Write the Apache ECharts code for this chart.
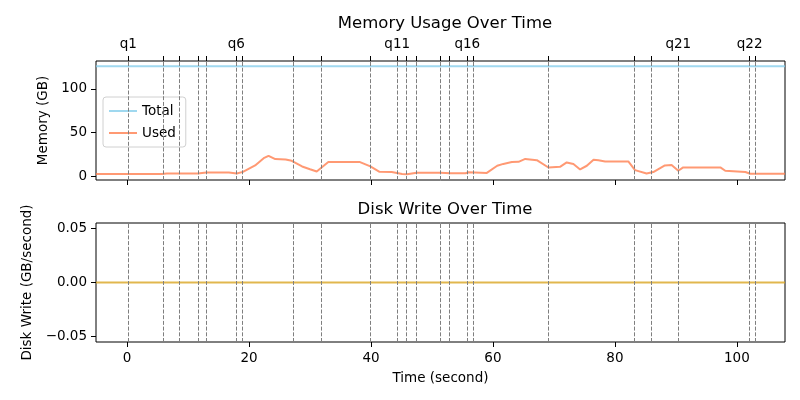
<!DOCTYPE html>
<html>
<head>
<meta charset="utf-8">
<script src="https://cdn.jsdelivr.net/npm/echarts@6/dist/echarts.min.js"></script>
<style>
html,body{margin:0;padding:0;background:#fff;}
#chart{width:800px;height:400px;}
</style>
</head>
<body>
<div id="chart"></div>
<script>
// ---- data ----
const usedTime = [-5.1, 5.7, 6.5, 8.5, 11.6, 13.0, 16.7, 18.0, 19.0, 21.0, 22.4, 23.2, 24.3, 26.0, 27.0, 28.7, 30.0, 31.1, 33.0, 38.2, 39.9, 41.4, 43.4, 45.1, 45.9, 47.5, 51.4, 53.0, 55.5, 56.0, 59.0, 60.7, 61.7, 63.1, 64.2, 65.3, 67.2, 69.1, 71.0, 72.1, 73.2, 74.3, 75.4, 76.5, 77.3, 78.4, 82.2, 83.3, 85.2, 86.3, 88.2, 89.3, 90.4, 91.2, 97.3, 98.1, 101.4, 102.2, 107.9];
const usedGB   = [2.5, 2.5, 3.2, 3.2, 3.2, 4.2, 4.2, 3.2, 5.0, 12.4, 20.7, 23.4, 19.6, 19.2, 17.7, 11.2, 8.0, 5.5, 16.2, 16.2, 11.2, 5.1, 4.8, 2.5, 2.2, 4.1, 4.1, 3.5, 3.5, 4.5, 3.8, 12.0, 14.1, 16.2, 16.5, 19.8, 18.4, 10.0, 10.8, 15.8, 13.9, 7.8, 12.0, 18.8, 18.4, 16.9, 16.9, 7.0, 3.2, 4.8, 12.4, 12.8, 6.3, 10.1, 10.1, 6.3, 4.8, 2.9, 2.9];
const totalTime = [-5.1, 107.9];
const totalGB   = [125.7, 125.7];
const diskTime  = [-5.1, 107.9];
const diskWrite = [0, 0];
const queryTimes  = [0.2, 5.9, 8.5, 11.6, 13.0, 17.9, 18.9, 27.2, 31.8, 39.8, 44.3, 45.8, 47.4, 51.3, 52.9, 55.8, 56.8, 69.0, 83.2, 86.0, 90.4, 102.1, 103.0];
const queryLabels = ['q1','','','','','q6','','','','','q11','','','','','q16','','','','','q21','q22',''];
const timeTicks = [0, 20, 40, 60, 80, 100];
const memTicks  = [0, 50, 100];
const diskTicks = [-0.05, 0, 0.05];

// ---- chart ----
const XMIN = -5.1, XMAX = 107.9;
const FONT = 'DejaVu Sans';
const C_TOTAL = 'rgba(135,206,235,0.8)';
const C_USED = 'rgba(255,127,80,0.8)';
const C_DISK = 'rgba(218,165,32,0.8)';
const pair = (xs, ys) => xs.map((x, i) => [x, ys[i]]);
const labeledTimes = queryTimes.filter((t, i) => queryLabels[i] !== '');
const tickStyle = {show: true, inside: false, length: 5, lineStyle: {color: '#000', width: 1}};
const labelStyle = {color: '#000', fontFamily: FONT, fontSize: 13.5};
const vlines = {
  silent: true, symbol: ['none', 'none'],
  label: {show: false},
  lineStyle: {color: '#7f7f7f', type: [4, 1.7], width: 1},
  emphasis: {disabled: true},
  data: queryTimes.map(t => ({xAxis: t}))
};
const LINE_ICON = 'path://M0,0 L28,0 L28,2 L0,2 Z';

const chart = echarts.init(document.getElementById('chart'), null, {renderer: 'canvas'});
chart.setOption({
  animation: false,
  backgroundColor: '#fff',
  textStyle: {fontFamily: FONT},
  title: [
    {text: 'Memory Usage Over Time', left: 440, top: 10, textAlign: 'center',
     textStyle: {fontFamily: FONT, fontSize: 16.5, fontWeight: 'normal', color: '#000'}},
    {text: 'Disk Write Over Time', left: 440, top: 196, textAlign: 'center',
     textStyle: {fontFamily: FONT, fontSize: 16.5, fontWeight: 'normal', color: '#000'}}
  ],
  legend: {
    left: 103, top: 97, orient: 'vertical',
    data: [{name: 'Total', icon: LINE_ICON}, {name: 'Used', icon: LINE_ICON}],
    itemWidth: 28, itemHeight: 2, itemGap: 8,
    padding: [7, 10, 7, 6],
    borderColor: '#d0d0d0', borderWidth: 1, borderRadius: 3,
    backgroundColor: 'rgba(255,255,255,0.8)',
    textStyle: {fontFamily: FONT, fontSize: 13.5, color: '#000'}
  },
  grid: [
    {left: 96, right: 15, top: 61, height: 119, show: true, borderColor: '#000', borderWidth: 1, backgroundColor: 'transparent'},
    {left: 96, right: 15, top: 223, height: 119, show: true, borderColor: '#000', borderWidth: 1, backgroundColor: 'transparent'}
  ],
  xAxis: [
    {gridIndex: 0, type: 'value', min: XMIN, max: XMAX, position: 'bottom',
     axisLine: {show: false, onZero: false}, splitLine: {show: false},
     axisTick: Object.assign({customValues: timeTicks}, tickStyle),
     axisLabel: {show: true, customValues: timeTicks, formatter: () => ''}},
    {gridIndex: 0, type: 'value', min: XMIN, max: XMAX, position: 'top',
     axisLine: {show: false, onZero: false}, splitLine: {show: false},
     axisTick: Object.assign({customValues: queryTimes}, tickStyle),
     axisLabel: Object.assign({show: true, margin: 10, customValues: labeledTimes,
       formatter: v => { const i = queryTimes.indexOf(v); return i >= 0 ? queryLabels[i] : ''; }}, labelStyle)},
    {gridIndex: 1, type: 'value', min: XMIN, max: XMAX, position: 'bottom',
     axisLine: {show: false, onZero: false}, splitLine: {show: false},
     axisTick: Object.assign({customValues: timeTicks}, tickStyle),
     axisLabel: Object.assign({show: true, margin: 9, customValues: timeTicks, formatter: v => String(v)}, labelStyle),
     name: 'Time (second)', nameLocation: 'middle', nameGap: 29,
     nameTextStyle: {fontFamily: FONT, fontSize: 13.5, color: '#000'}}
  ],
  yAxis: [
    {gridIndex: 0, type: 'value', min: -4.3, max: 131.8, position: 'left',
     axisLine: {show: false, onZero: false}, splitLine: {show: false},
     axisTick: Object.assign({customValues: memTicks}, tickStyle),
     axisLabel: Object.assign({show: true, margin: 9, customValues: memTicks, formatter: v => String(v)}, labelStyle),
     name: 'Memory (GB)', nameLocation: 'middle', nameGap: 37,
     nameTextStyle: {fontFamily: FONT, fontSize: 13.5, color: '#000'}},
    {gridIndex: 1, type: 'value', min: -0.055, max: 0.055, position: 'left',
     axisLine: {show: false, onZero: false}, splitLine: {show: false},
     axisTick: Object.assign({customValues: diskTicks}, tickStyle),
     axisLabel: Object.assign({show: true, margin: 9, customValues: diskTicks,
       formatter: v => v.toFixed(2).replace('-', '\u2212')}, labelStyle),
     name: 'Disk Write (GB/second)', nameLocation: 'middle', nameGap: 56,
     nameTextStyle: {fontFamily: FONT, fontSize: 13.5, color: '#000'}}
  ],
  series: [
    {name: 'Total', type: 'line', xAxisIndex: 0, yAxisIndex: 0, data: pair(totalTime, totalGB),
     symbol: 'none', showSymbol: false, color: C_TOTAL, lineStyle: {width: 2, color: C_TOTAL}, z: 2},
    {name: 'Used', type: 'line', xAxisIndex: 0, yAxisIndex: 0, data: pair(usedTime, usedGB),
     symbol: 'none', showSymbol: false, color: C_USED, lineStyle: {width: 2, color: C_USED}, z: 2},
    {name: 'Disk Write', type: 'line', xAxisIndex: 2, yAxisIndex: 1, data: pair(diskTime, diskWrite),
     symbol: 'none', showSymbol: false, color: C_DISK, lineStyle: {width: 2, color: C_DISK}, z: 2},
    {name: 'qlines-top', type: 'line', xAxisIndex: 0, yAxisIndex: 0, data: [], z: 5, markLine: vlines},
    {name: 'qlines-bottom', type: 'line', xAxisIndex: 2, yAxisIndex: 1, data: [], z: 5, markLine: vlines}
  ]
});
</script>
</body>
</html>
